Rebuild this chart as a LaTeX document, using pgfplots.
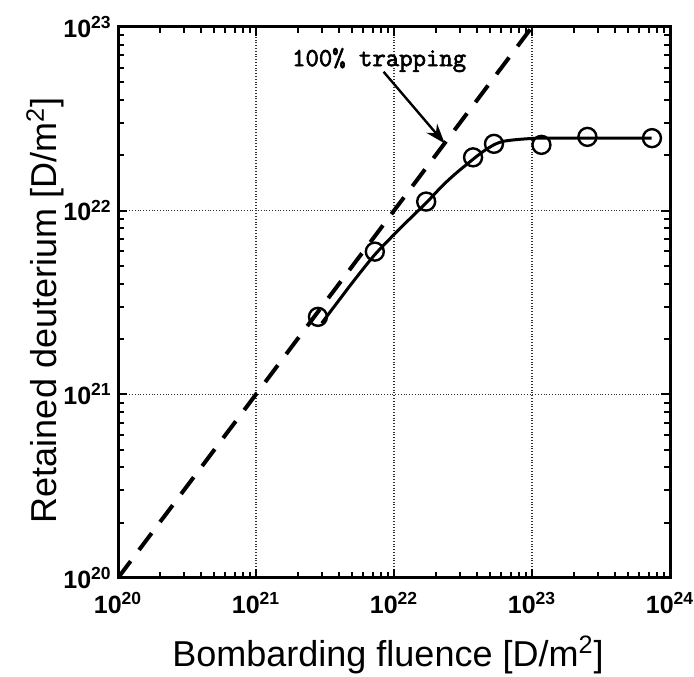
\documentclass[border=0pt]{standalone}
\usepackage{fontspec}
\setmainfont{Liberation Sans}
\newfontfamily\trapfont{Latin Modern Mono}[FakeBold=2.5]
\usepackage{pgfplots}
\pgfplotsset{compat=1.18}
\usetikzlibrary{arrows.meta}
\newcommand{\tl}[1]{10\textsuperscript{#1}}

\pgfplotstableread{
x y
2.99e21 2.44e21
3.98e21 3.24e21
5.01e21 4.07e21
7.16e21 5.69e21
1.0e22 7.41e21
1.26e22 8.81e21
1.74e22 1.117e22
2.24e22 1.365e22
2.82e22 1.60e22
3.76e22 1.91e22
4.47e22 2.11e22
5.40e22 2.30e22
6.31e22 2.39e22
7.94e22 2.44e22
1.0e23 2.47e22
1.26e23 2.48e22
7.36e23 2.48e22
}\fitcurve

\pgfplotstableread{
x y
2.81e21 2.64e21
7.26e21 5.98e21
1.71e22 1.12e22
3.74e22 1.95e22
5.30e22 2.31e22
1.17e23 2.28e22
2.52e23 2.52e22
7.40e23 2.48e22
}\measured

\begin{document}
\begin{tikzpicture}
\begin{axis}[
  name=ax,
  xmode=log, ymode=log,
  scale only axis, width=276pt, height=275.5pt,
  xmin=1e20, xmax=1e24, ymin=1e20, ymax=1e23,
  xtick={1e20,1e21,1e22,1e23,1e24},
  xticklabels={\tl{20},\tl{21},\tl{22},\tl{23},\tl{24}},
  ytick={1e20,1e21,1e22,1e23},
  yticklabels={\tl{20},\tl{21},\tl{22},\tl{23}},
  minor xtick={2e20,3e20,4e20,5e20,6e20,7e20,8e20,9e20,
               2e21,3e21,4e21,5e21,6e21,7e21,8e21,9e21,
               2e22,3e22,4e22,5e22,6e22,7e22,8e22,9e22,
               2e23,3e23,4e23,5e23,6e23,7e23,8e23,9e23},
  minor ytick={2e20,3e20,4e20,5e20,6e20,7e20,8e20,9e20,
               2e21,3e21,4e21,5e21,6e21,7e21,8e21,9e21,
               2e22,3e22,4e22,5e22,6e22,7e22,8e22,9e22},
  tick align=inside,
  major tick length=4.5pt, minor tick length=2.8pt,
  every tick/.style={black, line width=1pt},
  axis line style={line width=1.5pt},
  grid=major,
  major grid style={densely dotted, line width=0.6pt, black!80},
  xticklabel style={font=\bfseries\fontsize{12.5}{12.5}\selectfont, anchor=north, inner sep=0pt, yshift=-7pt},
  yticklabel style={font=\bfseries\fontsize{12.5}{12.5}\selectfont, anchor=east, inner sep=0pt, xshift=-3pt},
  xlabel={Bombarding fluence [D/m\textsuperscript{2}]},
  ylabel={Retained deuterium [D/m\textsuperscript{2}]},
  xlabel style={font=\fontsize{18}{18}\selectfont, at={([xshift=-3pt,yshift=-38.5pt]axis description cs:0.5,0)}, anchor=center},
  ylabel style={font=\fontsize{18}{18}\selectfont, at={([xshift=-36.5pt,yshift=-4pt]axis description cs:0,0.5)}, anchor=center},
]
\addplot[black, line width=2pt, dash pattern=on 10.5pt off 7pt] coordinates {(1e20,1e20) (1e23,1e23)};
\addplot[black, line width=1.5pt, smooth, tension=0.5] table[x=x,y=y] {\fitcurve};
\addplot[only marks, black, mark=o, mark size=4.5pt, mark options={line width=1.2pt}] table[x=x,y=y] {\measured};
\draw[black, line width=1.2pt, -{Stealth[length=10pt,width=7pt]}] (axis cs:8.4e21,5.7e22) -- (axis cs:2.33e22,2.32e22);
\node[anchor=base, inner sep=0pt, font=\trapfont\fontsize{13}{13}\selectfont] at (axis cs:7.8e21,6.12e22) {100\% trapping};
\end{axis}
\pgfresetboundingbox
\path ([shift={(-59pt,-49.5pt)}]ax.south west) rectangle ([shift={(12pt,13.5pt)}]ax.north east);
\end{tikzpicture}
\end{document}
